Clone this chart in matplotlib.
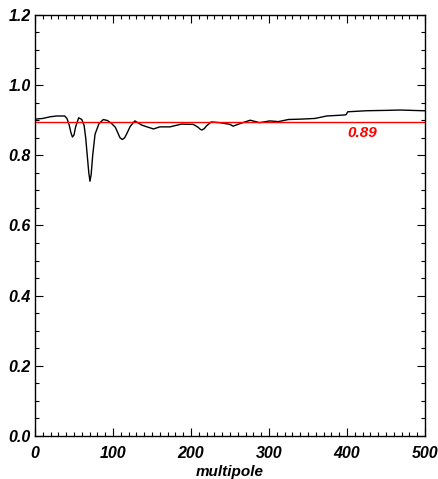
import numpy as np
import matplotlib.pyplot as plt
from matplotlib.ticker import MultipleLocator

plt.rcParams['font.family'] = ['Liberation Sans', 'DejaVu Sans']

# curve
multipole = [0, 10, 20, 28, 38, 41, 44, 46, 48, 50, 52, 56, 60, 63, 65, 67, 69, 70.5, 72,
             74, 77, 82, 87.6, 93, 98, 103, 106, 109, 112, 115, 118, 122, 128, 137, 145,
             152, 160, 173, 188, 203, 209, 212, 214, 217, 220, 226, 237, 250, 254, 265,
             276, 288, 301, 312, 325, 340, 359, 374, 390, 397, 399, 401, 425, 450, 468,
             498, 500]
ratio = [0.903, 0.905, 0.910, 0.912, 0.912, 0.905, 0.885, 0.865, 0.852, 0.858, 0.880,
         0.907, 0.902, 0.885, 0.850, 0.800, 0.750, 0.726, 0.745, 0.800, 0.860, 0.890,
         0.902, 0.899, 0.891, 0.880, 0.865, 0.850, 0.845, 0.850, 0.863, 0.882, 0.898,
         0.886, 0.880, 0.875, 0.881, 0.881, 0.889, 0.888, 0.880, 0.874, 0.872, 0.876,
         0.884, 0.895, 0.893, 0.888, 0.883, 0.892, 0.900, 0.893, 0.898, 0.896, 0.902,
         0.903, 0.905, 0.912, 0.914, 0.915, 0.916, 0.924, 0.927, 0.928, 0.929, 0.927,
         0.927]
mean_ratio = 0.896
mean_label = '0.89'

fig = plt.figure(figsize=(4.39, 4.79), dpi=100)
ax = fig.add_axes([0.0797, 0.0898, 0.8883, 0.879])

ax.plot(multipole, ratio, color='black', lw=1.0)
ax.axhline(mean_ratio, color='red', lw=1.0)
ax.text(419, 0.864, mean_label, color='red', fontsize=11, fontweight='bold',
        fontstyle='italic', ha='center', va='center')

ax.set_xlim(0, 500)
ax.set_ylim(0, 1.2)
ax.xaxis.set_major_locator(MultipleLocator(100))
ax.xaxis.set_minor_locator(MultipleLocator(10))
ax.yaxis.set_major_locator(MultipleLocator(0.2))
ax.yaxis.set_minor_locator(MultipleLocator(0.05))
ax.tick_params(which='both', direction='in', top=True, right=True, width=0.8)
ax.tick_params(which='major', length=6)
ax.tick_params(which='minor', length=3)
ax.tick_params(axis='x', pad=7)
ax.tick_params(axis='y', pad=3)
ax.set_yticks(np.arange(0, 1.21, 0.2))
ax.set_yticklabels([f'{v:.1f}' for v in np.arange(0, 1.21, 0.2)])
for lab in ax.get_xticklabels() + ax.get_yticklabels():
    lab.set_fontweight('bold')
    lab.set_fontstyle('italic')
    lab.set_fontsize(11.5)
for s in ax.spines.values():
    s.set_linewidth(1.0)
ax.set_xlabel('multipole', fontsize=11, fontweight='bold', fontstyle='italic', labelpad=3)

fig.savefig('out.png', dpi=100)
